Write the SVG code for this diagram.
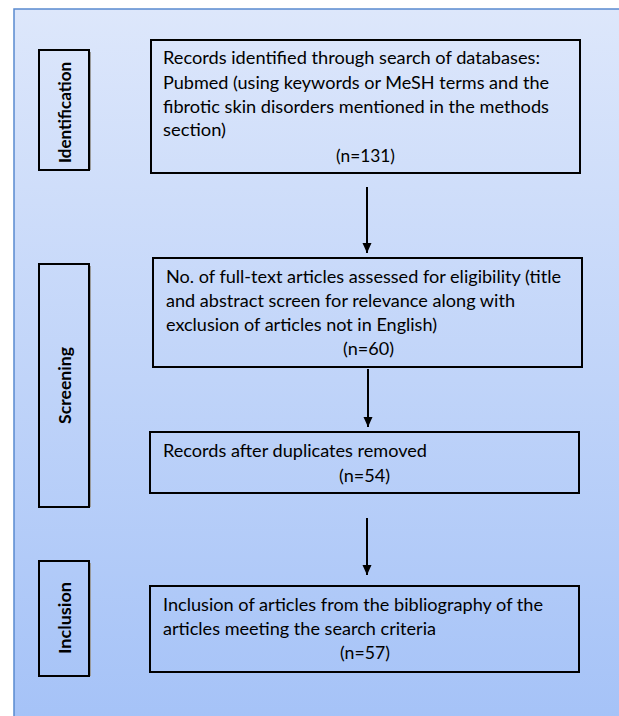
<svg xmlns="http://www.w3.org/2000/svg" width="619" height="716" viewBox="0 0 619 716">
<defs>
<linearGradient id="bg" x1="0" y1="0" x2="0" y2="1">
<stop offset="0" stop-color="#DDE7FB"/>
<stop offset="1" stop-color="#A3C1F7"/>
</linearGradient>
<marker id="ah" viewBox="0 0 10 10" refX="10" refY="5" markerWidth="10" markerHeight="10" markerUnits="userSpaceOnUse" orient="auto">
<path d="M0,0.5 L10,5 L0,9.5 Z" fill="#000"/>
</marker>
<style>
.box{fill:none;stroke:#000;stroke-width:2}
.lbl{fill:none;stroke:#000;stroke-width:2}
.sh{fill:none;stroke:#9a9a9a;stroke-width:1}
.t{font-family:Lato,"Liberation Sans",sans-serif;font-size:17px;fill:#000}
.c{text-anchor:middle}
.b{font-family:Lato,"Liberation Sans",sans-serif;font-size:17px;font-weight:bold;fill:#000;text-anchor:middle}
.arr{stroke:#000;stroke-width:2;fill:none;marker-end:url(#ah)}
</style>
</defs>
<rect width="619" height="716" fill="#fff"/>
<rect x="14" y="9" width="640" height="740" fill="url(#bg)" stroke="#5A8AD0" stroke-width="1.5"/>

<g id="identification">
<rect class="lbl" x="39" y="50" width="50" height="120"/>
<line class="sh" x1="90.5" y1="52" x2="90.5" y2="170"/>
<text class="b" transform="translate(71,112.5) rotate(-90)" textLength="101" lengthAdjust="spacingAndGlyphs">Identification</text>
</g>
<g id="screening">
<rect class="lbl" x="39" y="264" width="50" height="243"/>
<line class="sh" x1="90.5" y1="266" x2="90.5" y2="507"/>
<text class="b" transform="translate(71,385.5) rotate(-90)" textLength="77" lengthAdjust="spacingAndGlyphs">Screening</text>
</g>
<g id="inclusion">
<rect class="lbl" x="39" y="561" width="50" height="115"/>
<line class="sh" x1="90.5" y1="563" x2="90.5" y2="676"/>
<text class="b" transform="translate(71,618) rotate(-90)" textLength="72" lengthAdjust="spacingAndGlyphs">Inclusion</text>
</g>

<g id="records-identified">
<rect class="box" x="151" y="40" width="429" height="133"/>
<text class="t" x="163" y="64" textLength="377" lengthAdjust="spacingAndGlyphs">Records identified through search of databases:</text>
<text class="t" x="163" y="89" textLength="386" lengthAdjust="spacingAndGlyphs">Pubmed (using keywords or MeSH terms and the</text>
<text class="t" x="163" y="113" textLength="386" lengthAdjust="spacingAndGlyphs">fibrotic skin disorders mentioned in the methods</text>
<text class="t" x="163" y="136" textLength="63" lengthAdjust="spacingAndGlyphs">section)</text>
<text class="t c" x="365.5" y="162" textLength="59" lengthAdjust="spacingAndGlyphs">(n=131)</text>
</g>

<g id="full-text">
<rect class="box" x="153" y="258" width="429" height="109"/>
<text class="t" x="166" y="283" textLength="395" lengthAdjust="spacingAndGlyphs">No. of full-text articles assessed for eligibility (title</text>
<text class="t" x="166" y="307" textLength="349" lengthAdjust="spacingAndGlyphs">and abstract screen for relevance along with</text>
<text class="t" x="166" y="331" textLength="271" lengthAdjust="spacingAndGlyphs">exclusion of articles not in English)</text>
<text class="t c" x="368.5" y="355" textLength="51" lengthAdjust="spacingAndGlyphs">(n=60)</text>
</g>

<g id="duplicates">
<rect class="box" x="150" y="432" width="429" height="61"/>
<text class="t" x="163" y="457" textLength="264" lengthAdjust="spacingAndGlyphs">Records after duplicates removed</text>
<text class="t c" x="364.5" y="482" textLength="51" lengthAdjust="spacingAndGlyphs">(n=54)</text>
</g>

<g id="bibliography">
<rect class="box" x="150" y="586" width="429" height="86"/>
<text class="t" x="163" y="611" textLength="380" lengthAdjust="spacingAndGlyphs">Inclusion of articles from the bibliography of the</text>
<text class="t" x="163" y="635" textLength="273" lengthAdjust="spacingAndGlyphs">articles meeting the search criteria</text>
<text class="t c" x="365" y="659" textLength="50" lengthAdjust="spacingAndGlyphs">(n=57)</text>
</g>

<g id="connectors">
<line class="arr" x1="367" y1="187" x2="367" y2="253"/>
<line class="arr" x1="368" y1="369" x2="368" y2="427"/>
<line class="arr" x1="367" y1="518" x2="367" y2="575"/>
</g>
</svg>
